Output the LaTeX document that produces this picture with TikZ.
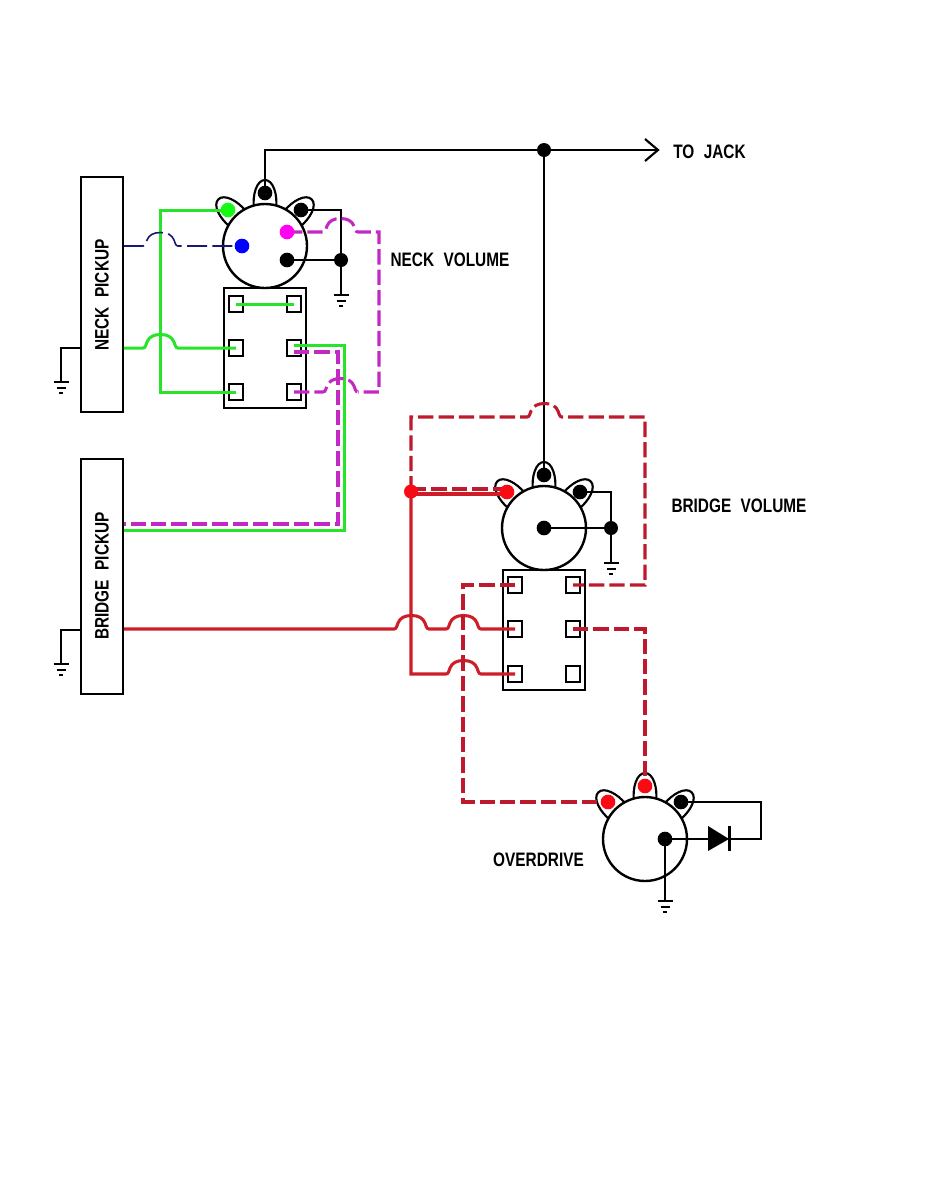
\documentclass[tikz,border=0pt]{standalone}
\usepackage{fontspec}
\setmainfont{Liberation Sans}[FakeStretch=0.79,WordSpace=2.2]
\pgfdeclarelayer{back}
\pgfdeclarelayer{dots}
\pgfsetlayers{back,main,dots}
\definecolor{wgreen}{RGB}{40,228,40}
\definecolor{bgreen}{RGB}{20,250,20}
\definecolor{wmag}{RGB}{196,40,196}
\definecolor{bmag}{RGB}{255,0,240}
\definecolor{wnavy}{RGB}{25,25,115}
\definecolor{wdred}{RGB}{190,25,45}
\definecolor{wred}{RGB}{205,30,40}
\definecolor{bred}{RGB}{250,10,20}
\tikzset{
  x=0.75pt,y=-0.75pt,
  blk/.style={draw=black,line width=1.6pt,line join=miter},
  thinblk/.style={draw=black,line width=1.5pt},
  pickup/.style={draw=black,line width=1.8pt,rectangle,minimum width=31.5pt,minimum height=176.25pt,inner sep=0pt},
  switchbox/.style={draw=black,line width=1.8pt,rectangle,minimum width=61.5pt,minimum height=90pt,inner sep=0pt},
  potbody/.style={draw=black,fill=white,line width=1.8pt,circle,minimum size=63pt,inner sep=0pt},
  term/.style={draw=black,line width=1.3pt,rectangle,minimum width=10pt,minimum height=12pt,inner sep=0pt},
  pin/.style={circle,fill=#1,minimum size=11pt,inner sep=0pt},
  junc/.style={circle,fill=#1,minimum size=10.5pt,inner sep=0pt},
  green wire/.style={draw=wgreen,line width=2.25pt,line join=miter},
  mag wire/.style={draw=wmag,line width=2.3pt,dash pattern=on 11.5pt off 3.8pt},
  navy wire/.style={draw=wnavy,line width=1.2pt,dash pattern=on 15pt off 4pt},
  red wire/.style={draw=wred,line width=2.3pt},
  dred wire/.style={draw=wdred,line width=2.3pt,dash pattern=on 11.5pt off 3.8pt},
  lugline/.style={draw=black,line width=1.6pt,fill=white},
  label/.style={font=\bfseries\fontsize{14.6}{16}\selectfont,inner sep=0pt,text=black},
}
% a wire hop over a crossing, 35 wide and 14 high, from the current point
\newcommand{\hop}{.. controls ++(2.5,0) and ++(-1,2.5) .. ++(4,-6) .. controls ++(2,-5) and ++(-7,0) .. ++(13.5,-7.5) .. controls ++(7,0) and ++(-2,-5) .. ++(13.5,7.5) .. controls ++(1,2.5) and ++(-2.5,0) .. ++(4,6)}
\newcommand{\lug}[3]{\begin{scope}[shift={(#1,#2)},rotate=#3]
  \path[lugline] (-11,-36) .. controls (-13,-52) and (-8,-66) .. (0,-66) .. controls (8,-66) and (13,-52) .. (11,-36);
\end{scope}}
\newcommand{\gnd}[2]{\draw[thinblk] (#1-7.5,#2) -- (#1+7.5,#2) (#1-4.5,#2+5.5) -- (#1+4.5,#2+5.5) (#1-2,#2+11) -- (#1+2,#2+11);}
\begin{document}
\begin{tikzpicture}
\useasboundingbox (0,0) rectangle (927,1200);
% pots, lugs
\begin{pgfonlayer}{back}
  \fill[white] (0,0) rectangle (927,1200);
  \lug{265}{246}{0}\lug{265}{246}{45}\lug{265}{246}{-45}
  \lug{544}{528}{0}\lug{544}{528}{45}\lug{544}{528}{-45}
  \lug{645}{839}{0}\lug{645}{839}{45}\lug{645}{839}{-45}
  \node[potbody] (potN) at (265,246) {};
  \node[potbody] (potB) at (544,528) {};
  \node[potbody] (potO) at (645,839) {};
  \node[pickup] (pickN) at (102,294.5) {};
  \node[pickup] (pickB) at (102,576.5) {};
  \node[switchbox] (swN) at (265,348) {};
  \node[switchbox] (swB) at (544,630) {};
  \node[term] (n1) at (236,304) {}; \node[term] (n2) at (294,304) {};
  \node[term] (n3) at (236,348) {}; \node[term] (n4) at (294,348) {};
  \node[term] (n5) at (236,392) {}; \node[term] (n6) at (294,392) {};
  \node[term] (b1) at (515,585) {}; \node[term] (b2) at (573,585) {};
  \node[term] (b3) at (515,629) {}; \node[term] (b4) at (573,629) {};
  \node[term] (b5) at (515,674) {}; \node[term] (b6) at (573,674) {};
\end{pgfonlayer}
% pins
\begin{pgfonlayer}{dots}
  \node[pin=black] (nt) at (265,193) {};
  \node[pin=bgreen] (nl) at (228,210) {};
  \node[pin=black] (nr) at (301,210) {};
  \node[pin=blue] (nb) at (242,246) {};
  \node[pin=bmag] (nm) at (287,232) {};
  \node[pin=black] (nk) at (287,260) {};
  \node[junc=black] (nj) at (341,260) {};
  \node[junc=black] (top) at (544,150) {};
  \node[pin=black] (bt) at (544,475) {};
  \node[pin=bred] (bl) at (507,492) {};
  \node[pin=black] (br) at (580,492) {};
  \node[pin=black] (bc) at (544,528) {};
  \node[junc=black] (bj) at (611,528) {};
  \node[junc=bred] (rj) at (411,491.5) {};
  \node[pin=bred] (ot) at (645,786) {};
  \node[pin=bred] (ol) at (608,802) {};
  \node[pin=black] (or) at (681,802) {};
  \node[pin=black] (oc) at (665,839) {};
\end{pgfonlayer}
\coordinate (jack) at (658,150);
\coordinate (gn) at (341,295);
\coordinate (gb) at (611,563);
\coordinate (go) at (665,901);
\coordinate (g1) at (61,382);
\coordinate (g2) at (61,664);
\coordinate (dA) at (708,839);
\coordinate (dK) at (729,839);
% black wiring
\draw[blk] (nt.center) -- (265,150) -- (jack);
\draw[blk] (jack) ++(-13,-11) -- (jack) -- ++(-13,11);
\draw[blk] (top.center) -- (bt.center);
\draw[blk] (nr.center) -- (341,210) -- (gn);
\draw[blk] (nk.center) -- (nj.center);
\draw[blk] (br.center) -- (611,492) -- (gb);
\draw[blk] (bc.center) -- (bj.center);
\draw[blk] (oc.center) -- (go);
\draw[blk] (oc.center) -- (dA);
\draw[blk] (dK) -- (761,839) -- (761,802) -- (or.center);
\fill[black] (708,826) -- (729,839) -- (708,851) -- cycle;
\draw[blk] (729.5,826) -- (729.5,851);
\draw[blk] (pickN.west |- 0,348) -- (61,348) -- (g1);
\draw[blk] (pickB.west |- 0,630) -- (61,630) -- (g2);
\gnd{341}{295}\gnd{611}{563}\gnd{665}{901}\gnd{61}{382}\gnd{61}{664}
% green
\draw[green wire] (nl.center) -- (160,210) -- (160,392) -- (n5.center);
\draw[green wire] (n1.center) -- (n2.center);
\draw[green wire] (pickN.east |- 0,348) -- (143,348) \hop -- (n3.center);
\draw[green wire] (294,345) -- (344,345) -- (344,530) -- (pickB.east |- 0,530);
% navy
\draw[navy wire] (pickN.east |- 0,246) -- (143,246) \hop -- (nb.center);
% magenta
\draw[mag wire] (nm.center) -- (323,232) \hop -- (379,232) -- (379,392) -- (358,392);
\draw[mag wire] (n6.center) -- (323,392) \hop;
\draw[mag wire] (294,352) -- (338,352) -- (338,524) -- (pickB.east |- 0,524);
% red
\draw[red wire] (pickB.east |- 0,629) -- (394,629) \hop -- (446,629) \hop -- (b3.center);
\draw[red wire] (rj.center) -- (411,674) -- (446,674) \hop -- (b5.center);
\draw[red wire] (411,494) -- (507,494);
\draw[dred wire] (411,489) -- (507,489);
\draw[dred wire] (rj.center) -- (411,417) -- (527,417) \hop -- (645,417) -- (645,585) -- (b2.center);
\draw[dred wire] (b1.center) -- (463,585) -- (463,802) -- (ol.center);
\draw[dred wire] (b4.center) -- (645,629) -- (ot.center);
% labels
\node[label,rotate=90] (lN) at (102,295) {NECK PICKUP};
\node[label,rotate=90] (lB) at (102,576) {BRIDGE PICKUP};
\node[label] (lNV) at (450,260) {NECK VOLUME};
\node[label] (lBV) at (739,506) {BRIDGE VOLUME};
\node[label] (lJ) at (709.5,152) {TO JACK};
\node[label] (lO) at (538.5,860) {OVERDRIVE};
\end{tikzpicture}
\end{document}
